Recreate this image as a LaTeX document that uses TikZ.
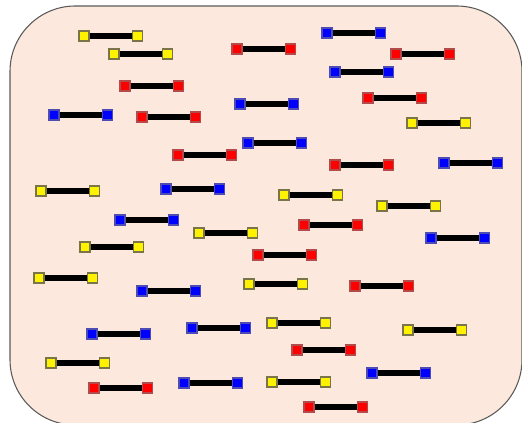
\documentclass[tikz,border=0pt]{standalone}
\usepackage{tikz}
\usetikzlibrary{positioning}

\definecolor{peach}{RGB}{252,232,220}
\definecolor{tray}{RGB}{90,90,90}

\begin{document}
\begin{tikzpicture}[
  x=0.75pt, y=-0.75pt,
  node distance=0pt and 31.6pt,
  endbox/.style={rectangle, draw=#1!40!gray, fill=#1, line width=0.8pt, minimum size=7.5pt, inner sep=0pt},
  endbox yellow/.style={rectangle, draw=yellow!40!black, fill=yellow, line width=0.8pt, minimum size=7.5pt, inner sep=0pt},
  bar/.style={line width=4.5pt, black}
]
\useasboundingbox (0,0) rectangle (522,423);
\draw[tray, fill=peach, line width=0.8pt, rounded corners=49pt] (10,6) rectangle (522,425);

% rods: colour / left end x / y
\foreach \c/\x/\y [count=\i] in {
  yellow/84/36, yellow/114/54, red/125/86, blue/54/115, red/142/117,
  red/178/155, yellow/41/191, blue/166/189, red/237/49, blue/240/104,
  blue/248/143, blue/327/33, red/396/54, blue/335/72, red/368/98,
  yellow/412/123, red/335/165, blue/444/163, yellow/284/195, yellow/382/206,
  blue/120/220, yellow/199/233, yellow/85/247, red/258/255, yellow/39/278,
  yellow/249/284, blue/142/291, blue/192/328, blue/92/334, yellow/51/363,
  red/94/388, blue/184/383, red/304/225, blue/431/238, red/355/286,
  yellow/272/323, yellow/408/330, red/297/350, blue/372/373, yellow/272/382,
  red/309/407}
{
  \ifnum\pdfstrcmp{\c}{yellow}=0
    \tikzset{rodend/.style={endbox yellow}}
  \else
    \tikzset{rodend/.style={endbox=\c}}
  \fi
  \node[rodend] (l\i) at (\x,\y) {};
  \node[rodend, right=of l\i] (r\i) {};
  \draw[bar] (l\i) -- (r\i);
}
\end{tikzpicture}
\end{document}
